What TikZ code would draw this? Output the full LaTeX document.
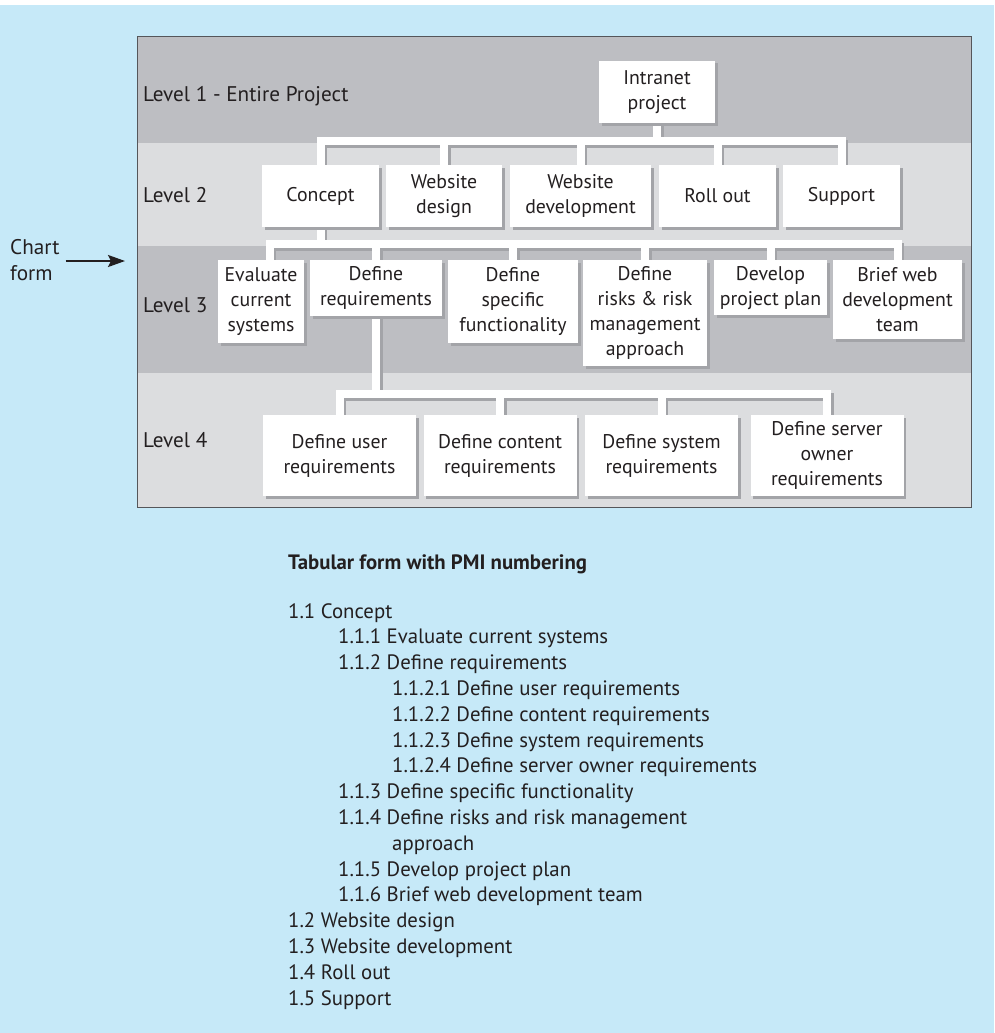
\documentclass[tikz,border=0pt]{standalone}
\usepackage{fontspec}
\setmainfont{PT Sans}
\usetikzlibrary{arrows.meta,shadows}

\definecolor{skyback}{RGB}{198,233,248}
\definecolor{banddark}{RGB}{189,190,194}
\definecolor{bandlight}{RGB}{220,221,223}
\definecolor{boxshade}{RGB}{163,164,168}
\definecolor{ink}{RGB}{35,31,32}
\definecolor{framegray}{RGB}{85,86,90}

\pgfdeclarelayer{bands}
\pgfdeclarelayer{links}
\pgfsetlayers{bands,links,main}

\tikzset{
  wbsbox/.style = {fill=white, text=ink, align=center, inner sep=1pt,
                   font=\fontsize{19.8}{25}\selectfont,
                   drop shadow={shadow xshift=2.5pt, shadow yshift=-2.5pt, fill=boxshade, opacity=1}},
  lvltwo/.style = {wbsbox, minimum height=62pt},
  lvlthree/.style = {wbsbox, anchor=north},
  lvlfour/.style = {wbsbox, minimum width=153pt, minimum height=81pt},
  lvllabel/.style = {anchor=base west, text=ink, inner sep=0pt, font=\fontsize{21.2}{25}\selectfont},
  listitem/.style = {anchor=base west, text=ink, inner sep=0pt, font=\fontsize{20.8}{25}\selectfont}
}

% tree connectors, drawn once as shadow and once in white
\newcommand{\wbslinks}{%
  \draw (intranet.south) -- (intranet.south |- bus1);
  \draw (concept.north) |- (support.north |- bus1) -- (support.north);
  \foreach \n in {wdesign,wdev,rollout} \draw (\n.north) -- (\n.north |- bus1);
  \draw (concept.south) -- (concept.south |- bus2);
  \draw ([xshift=8.5pt]evaluate.north) |- (brief.north |- bus2) -- (brief.north);
  \foreach \n in {defreq,specific,risks,develop} \draw (\n.north) -- (\n.north |- bus2);
  \draw (defreq.south) -- (defreq.south |- bus3);
  \draw (userreq.north) |- (serverreq.north |- bus3) -- (serverreq.north);
  \foreach \n in {contentreq,systemreq} \draw (\n.north) -- (\n.north |- bus3);
}

\begin{document}
\begin{tikzpicture}[x=1pt, y=-1pt]
\useasboundingbox (0,0) rectangle (994,1033);

% page and level bands
\begin{pgfonlayer}{bands}
\fill[white] (0,0) rectangle (994,1033);
\fill[skyback] (0,5) rectangle (994,1033);
\fill[banddark] (137,37) rectangle (971,143);
\fill[bandlight] (137,143) rectangle (971,246);
\fill[banddark] (137,246) rectangle (971,373);
\fill[bandlight] (137,373) rectangle (971,507);
\draw[framegray, line width=1pt] (137,37) rectangle (971,507);
\end{pgfonlayer}

\node[lvllabel] (lvlone) at (143,101) {Level 1 - Entire Project};
\node[lvllabel] (lvltwo) at (143,202) {Level 2};
\node[lvllabel] (lvlthree) at (143,312) {Level 3};
\node[lvllabel] (lvlfour) at (143,447) {Level 4};

\coordinate (bus1) at (0,141);
\coordinate (bus2) at (0,244);
\coordinate (bus3) at (0,394);

% level 1 and 2
\node[lvltwo, minimum width=116pt] (intranet) at (657,92) {Intranet\\project};
\node[lvltwo, minimum width=117pt] (concept) at (320.5,196) {Concept};
\node[lvltwo, minimum width=116pt] (wdesign) at (444,196) {Website\\design};
\node[lvltwo, minimum width=141pt] (wdev) at (580.5,196) {Website\\development};
\node[lvltwo, minimum width=117pt] (rollout) at (717.5,196) {Roll out};
\node[lvltwo, minimum width=117pt] (support) at (841.5,196) {Support};

% level 3
\node[lvlthree, minimum width=86pt, minimum height=83pt] (evaluate) at (261,260) {Evaluate\\current\\systems};
\node[lvlthree, minimum width=132pt, minimum height=56pt] (defreq) at (376,260) {Define\\requirements};
\node[lvlthree, minimum width=130pt, minimum height=83pt] (specific) at (513,260) {Define\\specific\\functionality};
\node[lvlthree, minimum width=124pt, minimum height=106pt] (risks) at (645,260) {Define\\risks \& risk\\management\\approach};
\node[lvlthree, minimum width=113pt, minimum height=55pt] (develop) at (770.5,260) {Develop\\project plan};
\node[lvlthree, minimum width=129pt, minimum height=79pt] (brief) at (897.5,260) {Brief web\\development\\team};

% level 4
\node[lvlfour] (userreq) at (339.5,455.5) {Define user\\requirements};
\node[lvlfour] (contentreq) at (500,455.5) {Define content\\requirements};
\node[lvlfour] (systemreq) at (661.5,455.5) {Define system\\requirements};
\node[lvlfour] (serverreq) at (827,455.5) {Define server\\owner\\requirements};

\begin{pgfonlayer}{links}
\begin{scope}[color=boxshade, line width=8pt, transform canvas={shift={(2.5pt,-2.5pt)}}]
  \wbslinks
\end{scope}
\begin{scope}[color=white, line width=8pt]
  \wbslinks
\end{scope}
\end{pgfonlayer}

% chart form pointer
\node[anchor=base west, align=left, text=ink, inner sep=0pt,
      font=\fontsize{21.2}{26}\selectfont] (chartform) at (10,280) {Chart\\form};
\coordinate (framewest) at (137,261);
\draw[-{Stealth[length=17pt, width=12pt, inset=3pt]}, line width=2.2pt, ink]
  (chartform.east |- framewest) ++(6,0) -- ([xshift=-12pt]framewest);

% tabular form
\node[listitem, font=\fontsize{20.8}{25}\selectfont\bfseries] (tabhead) at (288,569) {Tabular form with PMI numbering};
\foreach \ix/\txt [count=\k from 0] in {
  288/1.1 Concept,
  338/1.1.1 Evaluate current systems,
  338/1.1.2 Define requirements,
  392/1.1.2.1 Define user requirements,
  392/1.1.2.2 Define content requirements,
  392/1.1.2.3 Define system requirements,
  392/1.1.2.4 Define server owner requirements,
  338/1.1.3 Define specific functionality,
  338/1.1.4 Define risks and risk management,
  392/approach,
  338/1.1.5 Develop project plan,
  338/1.1.6 Brief web development team,
  288/1.2 Website design,
  288/1.3 Website development,
  288/1.4 Roll out,
  288/1.5 Support}
  \node[listitem] (item\k) at (\ix,618+25.8*\k) {\txt};
\end{tikzpicture}
\end{document}
